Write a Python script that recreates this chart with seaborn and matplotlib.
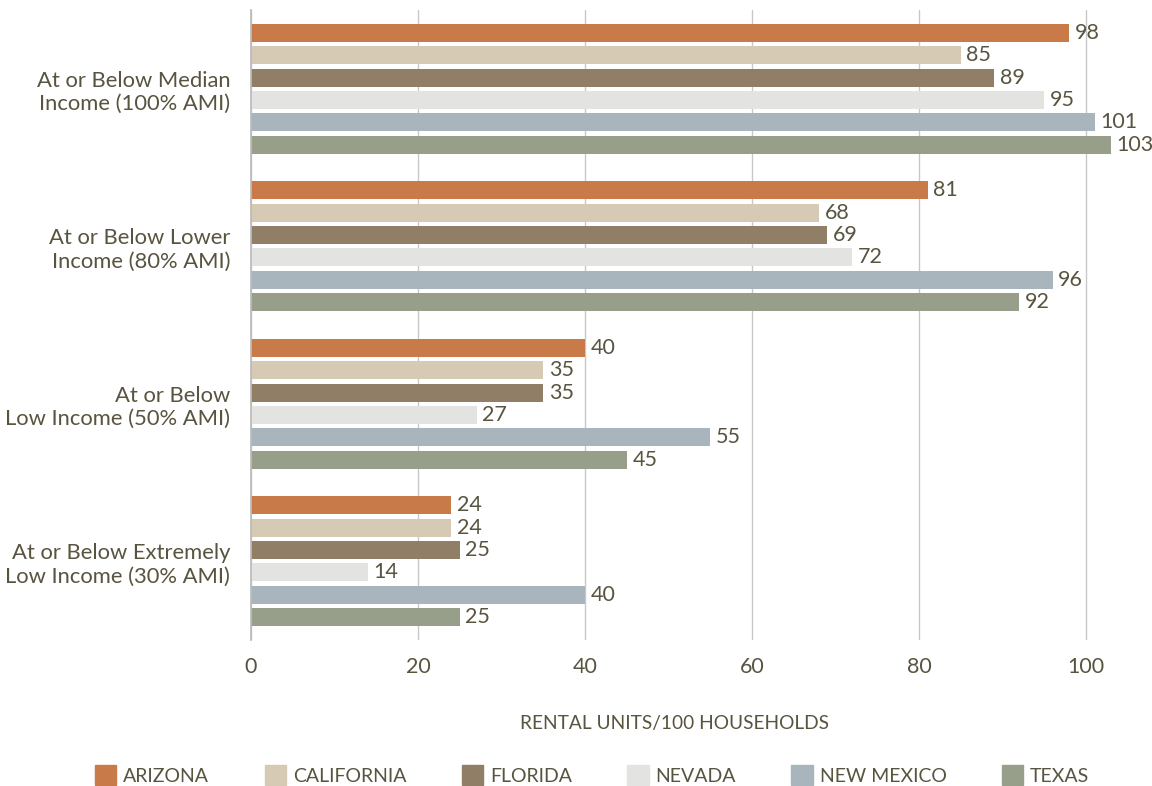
import matplotlib
matplotlib.use("Agg")
import matplotlib.pyplot as plt
import seaborn as sns
import pandas as pd

categories = ["At or Below Median\nIncome (100% AMI)",
              "At or Below Lower\nIncome (80% AMI)",
              "At or Below\nLow Income (50% AMI)",
              "At or Below Extremely\nLow Income (30% AMI)"]
states = ["ARIZONA", "CALIFORNIA", "FLORIDA", "NEVADA", "NEW MEXICO", "TEXAS"]
arizona = [98, 81, 40, 24]
california = [85, 68, 35, 24]
florida = [89, 69, 35, 25]
nevada = [95, 72, 27, 14]
new_mexico = [101, 96, 55, 40]
texas = [103, 92, 45, 25]
colors = ["#C87A48", "#D6CAB5", "#907F66", "#E3E4E2", "#A8B5BC", "#979F8A"]

series = [arizona, california, florida, nevada, new_mexico, texas]
rows = []
for s, vals in zip(states, series):
    for c, v in zip(categories, vals):
        rows.append({"cat": c, "state": s, "value": v})
df = pd.DataFrame(rows)

sns.set_theme(style="white")
plt.rcParams['font.family'] = ['Lato', 'DejaVu Sans']
txt = "#58543F"

fig = plt.figure(figsize=(11.52, 7.86), dpi=100)
ax = fig.add_axes([251/1152, 1 - 640/786, (1153-251)/1152, (640-10)/786])

sns.barplot(data=df, y="cat", x="value", hue="state", hue_order=states,
            palette=colors, saturation=1, orient="h", width=0.855, gap=0.2,
            linewidth=0, ax=ax, legend=True)

for cont in ax.containers:
    ax.bar_label(cont, fmt="%d", padding=4, fontsize=15.5, color=txt)

ax.set_xlim(0, 108)
ax.set_ylim(3.5, -0.5)
ax.set_xticks([0, 20, 40, 60, 80, 100])
ax.grid(axis="x", color="#C8C8C8", linewidth=1)
ax.set_axisbelow(True)
for sp in ["top", "right", "bottom"]:
    ax.spines[sp].set_visible(False)
ax.spines["left"].set_color("#BBBBBB")
ax.tick_params(axis="x", colors=txt, labelsize=15.5, pad=12, length=0)
ax.tick_params(axis="y", colors=txt, labelsize=15.8, length=0, pad=15)
for lab in ax.get_yticklabels():
    lab.set_horizontalalignment("right")
    lab.set_multialignment("right")
ax.set_ylabel("")
ax.set_xlabel("RENTAL UNITS/100 HOUSEHOLDS", color=txt, fontsize=13.8)
ax.xaxis.set_label_coords((675 - 251) / 902, -(715 - 640) / 630)

ax.get_legend().remove()
handles = [plt.Rectangle((0, 0), 1, 1, color=c) for c in colors]
fig.legend(handles, states, loc="center", bbox_to_anchor=(0.514, 1 - 775/786),
           ncol=6, frameon=False, fontsize=14, handlelength=1.1, handleheight=1.2,
           columnspacing=2.85, handletextpad=0.35, labelcolor=txt)

fig.savefig("out.png", dpi=100)
